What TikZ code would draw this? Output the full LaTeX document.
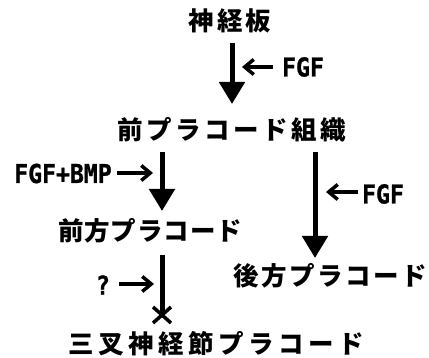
\documentclass[tikz,border=0pt]{standalone}
\usepackage{fontspec}
\setmainfont{Noto Sans CJK JP}
\newfontfamily\latfont[FakeStretch=0.89,BoldFeatures={FakeBold=1}]{DejaVu Sans Mono}
\usetikzlibrary{arrows.meta,calc}
\begin{document}
\begin{tikzpicture}[x=1pt,y=-1pt,
  jp/.style={inner sep=0pt,font=\fontsize{25.5}{28}\selectfont\bfseries\addfontfeature{LetterSpace=#1}},
  jp/.default=12,
  lat/.style={inner sep=0pt,font=\fontsize{26}{28}\latfont\bfseries},
  bigarrow/.style={line width=5pt,-{Triangle[width=25pt,length=22pt]}},
  smallarrow/.style={line width=3.5pt,-{Straight Barb[length=9pt,width=15pt,line width=3.5pt]}},
  crossline/.style={line width=3.5pt}]
\useasboundingbox (0,0) rectangle (429,358);
% texts
\node[jp=12] (t1) at (230,21) {神経板};
\node[jp=13.7] (t2) at (232,130) {前プラコード組織};
\node[jp=3.5] (t3) at (150,231) {前方プラコード};
\node[jp=10] (t4) at (330,276) {後方プラコード};
\node[jp=17.6] (t5) at (216,344) {三叉神経節プラコード};
\node[lat] (f1) at (303,67) {FGF};
\node[lat] (f2) at (63,173.5) {FGF+BMP};
\node[lat] (f3) at (103,285) {?};
\node[lat] (f4) at (383,194) {FGF};
% arrow coordinates
\coordinate (a1s) at (232,43);
\coordinate (a1e) at (232,104);
\coordinate (a2s) at (162,152);
\coordinate (a2e) at (162,211);
\coordinate (a3s) at (162,255);
\coordinate (a3e) at (162,315);
\coordinate (a4s) at (315,152);
\coordinate (a4e) at (315,258);
\coordinate (s1s) at (273,67);
\coordinate (s1e) at (242,67);
\coordinate (s2s) at (117,173);
\coordinate (s2e) at (153,173);
\coordinate (s3s) at (119,284);
\coordinate (s3e) at (154,284);
\coordinate (s4s) at (358,192);
\coordinate (s4e) at (326,192);
% big arrows
\draw[bigarrow] (a1s) -- (a1e);
\draw[bigarrow] (a2s) -- (a2e);
\draw[bigarrow] (a4s) -- (a4e);
\draw[line width=5pt] (a3s) -- (a3e);
\draw[crossline] ($(a3e)+(-9,-8)$) -- ($(a3e)+(9,8)$);
\draw[crossline] ($(a3e)+(-9,8)$) -- ($(a3e)+(9,-8)$);
% small arrows
\draw[smallarrow] (s1s) -- (s1e);
\draw[smallarrow] (s2s) -- (s2e);
\draw[smallarrow] (s3s) -- (s3e);
\draw[smallarrow] (s4s) -- (s4e);
\end{tikzpicture}
\end{document}
